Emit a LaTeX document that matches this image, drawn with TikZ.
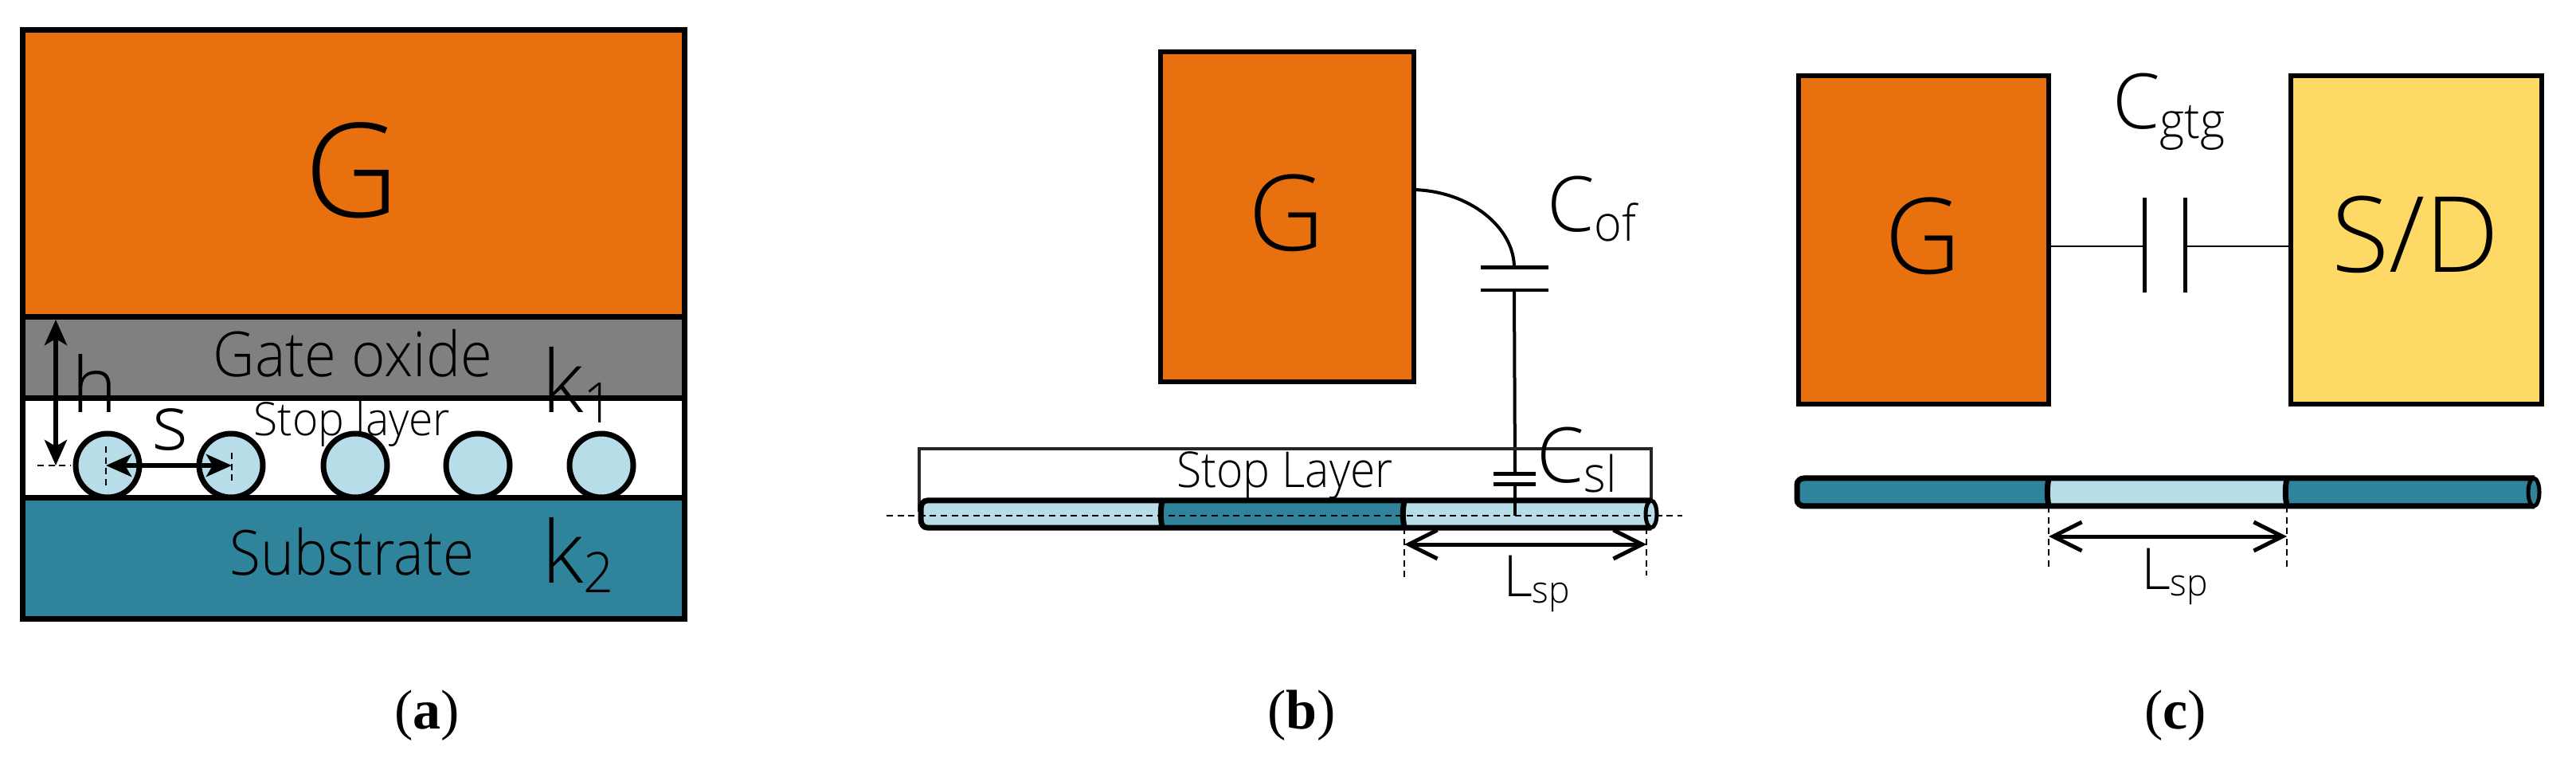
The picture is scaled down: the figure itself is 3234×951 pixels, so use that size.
\documentclass[tikz,border=0pt]{standalone}
\usepackage{fontspec}
\setmainfont{Open Sans}[UprightFont=* Light]
\newfontfamily\capfont{Liberation Serif}
\usetikzlibrary{arrows.meta}
\definecolor{gorange}{HTML}{E9700F}
\definecolor{oxgray}{HTML}{808080}
\definecolor{teal2}{HTML}{2F839B}
\definecolor{lblue}{HTML}{B7DDE8}
\definecolor{sdyellow}{HTML}{FFD966}
\newcommand\fsz[1]{\fontsize{#1pt}{#1pt}\selectfont}
\newcommand\nrw[2]{\scalebox{#1}[1]{#2}}
% label with subscript: size, base, subscript
\newcommand\subl[3]{\fsz{#1}#2\raisebox{-.12em}{\fontsize{\the\dimexpr#1pt*65/100\relax}{10pt}\selectfont\scalebox{.95}[1]{#3}}}
\newcommand\rectnode[7]{% name, x1,y1,x2,y2, style
  \pgfmathsetmacro\boxw{(#4-#2)*0.25}\pgfmathsetmacro\boxh{(#5-#3)*0.25}
  \node[#6,minimum width=\boxw pt,minimum height=\boxh pt] (#1) at ({(#2+#4)/2},{(#3+#5)/2}) {#7};}
\tikzset{
  x=0.25pt,y=-0.25pt,
  every node/.style={inner sep=0pt,outer sep=0pt},
  lay/.style={rectangle,fill=#1,draw=black,line width=1.75pt},
  gbox/.style={rectangle,fill=#1,draw=black,line width=1.5pt},
  txt/.style={anchor=base,text=black},
  dot/.style={circle,fill=lblue,draw=black,line width=1.75pt,minimum size=20pt},
  wire/.style={draw=black,line width=1pt},
  plate/.style={draw=black,line width=1.25pt},
  finedash/.style={draw=black,line width=.7pt,dash pattern=on 2pt off 1.4pt},
  dim/.style={draw=black,line width=1.25pt,{Straight Barb[length=9pt,width=9pt,line width=1.25pt]}-{Straight Barb[length=9pt,width=9pt,line width=1.25pt]}},
  sdim/.style={draw=black,line width=1.6pt,{Stealth[length=8pt,width=7pt,inset=2pt]}-{Stealth[length=8pt,width=7pt,inset=2pt]}},
  rodline/.style={draw=black,line width=1.75pt},
}
\begin{document}
\begin{tikzpicture}
\useasboundingbox (0,0) rectangle (3234,951);
% ---------- (a)
\rectnode{ag}{28}{38}{859}{398}{lay=gorange}{}
\rectnode{aox}{28}{398}{859}{500}{lay=oxgray}{}
\rectnode{asl}{28}{500}{859}{625}{lay=white}{}
\foreach \n/\cx in {1/135,2/290,3/446,4/600,5/755}
  \node[dot] (c\n) at (\cx,584) {};
\rectnode{asub}{28}{625}{859}{776}{lay=teal2}{}
\node[txt] (tG) at (442,273) {\fsz{41}G};
\node[txt] (tox) at (443,473) {\fsz{19.5}\nrw{.93}{Gate oxide}};
\node[txt] (tsl) at (442,547) {\fsz{14.5}\nrw{.95}{Stop layer}};
\node[txt] (tsub) at (442,721) {\fsz{19.5}\nrw{.91}{Substrate}};
\node[txt] (th) at (119,518) {\fsz{24}h};
\node[txt] (ts) at (214,565) {\fsz{24}s};
\node[txt,anchor=base west] (tk1) at (680,518) {\subl{27}{k}{1}};
\node[txt,anchor=base west] (tk2) at (680,731) {\subl{27}{k}{2}};
\coordinate (hT) at (70,401);
\coordinate (hB) at (70,584);
\coordinate (hL) at (47,584);
\coordinate (hR) at (88,584);
\draw[sdim] (hT) -- (hB);
\draw[finedash] (hL) -- (hR);
\coordinate (s1) at (133,584);
\coordinate (s2) at (291,584);
\draw[sdim] (s1) -- (s2);
\coordinate (d1a) at (133,560); \coordinate (d1b) at (133,610);
\coordinate (d2a) at (291,568); \coordinate (d2b) at (291,606);
\draw[finedash] (d1a) -- (d1b);
\draw[finedash] (d2a) -- (d2b);
\node[anchor=base] (capa) at (536,914) {\capfont\fsz{17.5}(\textbf{a})};
% ---------- (b)
\rectnode{bg}{1457}{65}{1775}{479}{gbox=gorange}{}
\node[txt] (tbG) at (1615,315) {\fsz{33}G};
\coordinate (bc1) at (1901,336);
\coordinate (bc2) at (1901,364);
\coordinate (bc3) at (1902,595);
\coordinate (bc4) at (1902,608);
\coordinate (bwend) at (1902,647);
\draw[wire] (1775,238) .. controls (1845,240) and (1901,285) .. (bc1);
\draw[wire] (bc2) -- (bc3);
\draw[plate] (1859,336) -- (1944,336);
\draw[plate,line width=1pt] (1859,364) -- (1944,364);
\rectnode{bsl}{1154}{563}{2073}{640}{gbox=none,draw=black!85,line width=1.2pt}{}
\draw[plate] (1875,595) -- (1928,595);
\draw[plate] (1875,608) -- (1928,608);
\fill[lblue] (1158,630) rectangle (1459,660);
\fill[teal2] (1459,630) rectangle (1763,660);
\fill[lblue] (1763,630) rectangle (2073,660);
\draw[wire] (bc4) -- (bwend);
\draw[rodline] (2073,628) -- (1164,628) to[out=180,in=90] (1156,638) -- (1156,652) to[out=-90,in=180] (1164,662) -- (2073,662);
\draw[rodline] (1459,628) to[out=-100,in=100] (1459,662);
\draw[rodline] (1763,628) to[out=-100,in=100] (1763,662);
\draw[fill=lblue,draw=black,line width=1.25pt] (2073,645) ellipse (7 and 17);
\coordinate (bdL) at (1113,647); \coordinate (bdR) at (2112,647);
\draw[finedash] (bdL) -- (bdR);
\coordinate (ba1) at (1763,683); \coordinate (ba2) at (2067,683);
\draw[dim] (ba1) -- (ba2);
\coordinate (bt1) at (1763,662); \coordinate (bb1) at (1763,725);
\coordinate (bt2) at (2067,662); \coordinate (bb2) at (2067,722);
\draw[finedash] (bt1) -- (bb1);
\draw[finedash] (bt2) -- (bb2);
\node[txt] (tbsl) at (1613,612) {\fsz{15.5}\nrw{.92}{Stop Layer}};
\node[txt,anchor=base west] (tcof) at (1942,291) {\subl{24}{C}{of}};
\node[txt,anchor=base west] (tcsl) at (1929,606) {\subl{24}{C}{sl}};
\node[txt,anchor=base west] (tblsp) at (1887,748) {\subl{18}{L}{sp}};
\node[anchor=base] (capb) at (1634,914) {\capfont\fsz{17.5}(\textbf{b})};
% ---------- (c)
\rectnode{cg}{2258}{95}{2572}{507}{gbox=gorange}{}
\rectnode{csd}{2876}{95}{3191}{507}{gbox=sdyellow}{}
\node[txt] (tcG) at (2414,344) {\fsz{33}G};
\node[txt] (tsd) at (3033,342) {\fsz{33}S/D};
\coordinate (p1t) at (2692,248); \coordinate (p1b) at (2692,367);
\coordinate (p2t) at (2743,248); \coordinate (p2b) at (2743,367);
\coordinate (p1m) at (2692,309); \coordinate (p2m) at (2743,309);
\draw[wire,line width=.7pt] (cg.east |- p1m) -- (p1m);
\draw[wire,line width=.7pt] (p2m) -- (csd.west |- p2m);
\draw[plate] (p1t) -- (p1b);
\draw[plate] (p2t) -- (p2b);
\node[txt,anchor=base west] (tcgtg) at (2652,162) {\subl{24}{C}{gtg}};
\fill[teal2] (2258,600) rectangle (2572,635);
\fill[lblue] (2572,600) rectangle (2871,635);
\fill[teal2] (2871,600) rectangle (3182,635);
\draw[rodline] (3182,600) -- (2265,600) to[out=180,in=90] (2256,608) -- (2256,627) to[out=-90,in=180] (2265,635) -- (3182,635);
\draw[rodline] (2572,600) to[out=-100,in=100] (2572,635);
\draw[rodline] (2871,600) to[out=-100,in=100] (2871,635);
\draw[fill=teal2,draw=black,line width=1.25pt] (3181,617.5) ellipse (7 and 17.5);
\coordinate (ca1) at (2572,673); \coordinate (ca2) at (2871,673);
\draw[dim] (ca1) -- (ca2);
\coordinate (ct1) at (2572,635); \coordinate (cb1) at (2572,716);
\coordinate (ct2) at (2871,635); \coordinate (cb2) at (2871,712);
\draw[finedash] (ct1) -- (cb1);
\draw[finedash] (ct2) -- (cb2);
\node[txt,anchor=base west] (tclsp) at (2688,739) {\subl{18}{L}{sp}};
\node[anchor=base] (capc) at (2731,914) {\capfont\fsz{17.5}(\textbf{c})};
\end{tikzpicture}
\end{document}
